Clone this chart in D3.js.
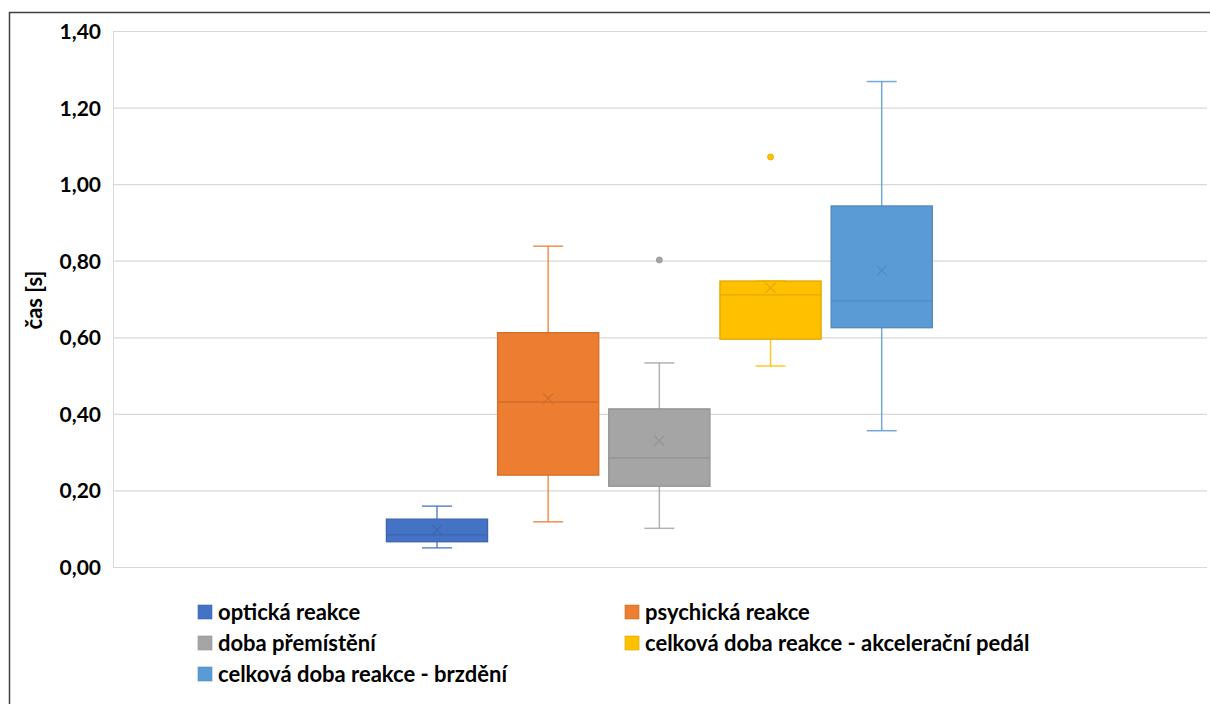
<!DOCTYPE html>
<html>
<head>
<meta charset="utf-8">
<script src="https://cdn.jsdelivr.net/npm/d3@7"></script>
<style>
  html, body { margin: 0; padding: 0; background: #fff; }
  svg { display: block; }
  text { font-family: Lato, "Open Sans", sans-serif; font-weight: 700; fill: #000; }
</style>
</head>
<body>
<svg id="chart" width="1210" height="704"></svg>
<script>
// ---- data ----
const categories = [
  "optická reakce",
  "psychická reakce",
  "doba přemístění",
  "celková doba reakce - akcelerační pedál",
  "celková doba reakce - brzdění"
];
const minValues    = [0.050, 0.118, 0.101, 0.525, 0.356];
const q1Values     = [0.066, 0.240, 0.211, 0.595, 0.625];
const medianValues = [0.084, 0.431, 0.285, 0.711, 0.695];
const q3Values     = [0.125, 0.612, 0.413, 0.747, 0.943];
const maxValues    = [0.159, 0.838, 0.533, 0.747, 1.268];
const meanValues   = [0.097, 0.440, 0.330, 0.729, 0.774];
const outliers     = [[], [], [0.802], [1.071], []];
const colors       = ["#4472C4", "#ED7D31", "#A5A5A5", "#FFC000", "#5B9BD5"];
const yTicks       = [0, 0.2, 0.4, 0.6, 0.8, 1.0, 1.2, 1.4];
const yTitle       = "čas [s]";

// ---- layout ----
const svg = d3.select("#chart");
const plot = { left: 113, right: 1207, top: 31, bottom: 567 };

const y = d3.scaleLinear().domain([0, 1.4]).range([plot.bottom, plot.top]);
const x = d3.scaleBand().domain(categories)
  .range([381.4, 937.3]).paddingInner(0.09).paddingOuter(0.045);

// outer frame
svg.append("rect")
  .attr("x", 9.5).attr("y", 12.5).attr("width", 1300).attr("height", 800)
  .attr("fill", "none").attr("stroke", "#404040").attr("stroke-width", 1.5);

// gridlines
const yAxis = d3.axisLeft(y).tickValues(yTicks)
  .tickSize(-(plot.right - plot.left))
  .tickFormat(d => d3.format(".2f")(d).replace(".", ","));
const gy = svg.append("g").attr("transform", `translate(${plot.left},0)`).call(yAxis);
gy.select(".domain").attr("stroke", "#d9d9d9");
gy.selectAll(".tick line").attr("stroke", "#d9d9d9").attr("stroke-width", 1.2);
gy.selectAll(".tick text")
  .attr("x", -12).attr("dy", "0.36em")
  .style("font-size", "21px").style("font-family", "Lato, sans-serif").style("font-weight", 700)
  .attr("fill", "#000");

// y title
svg.append("text")
  .attr("transform", `translate(42,${(plot.top + plot.bottom) / 2 + 1}) rotate(-90)`)
  .attr("text-anchor", "middle")
  .style("font-size", "22px")
  .text(yTitle);

// ---- boxes ----
const darker = c => d3.color(c).darker(0.35).formatHex();
const capW = 30;
categories.forEach((cat, i) => {
  const g = svg.append("g");
  const x0 = x(cat), bw = x.bandwidth(), cx = x0 + bw / 2;
  const col = colors[i], dk = darker(col);
  // whiskers
  g.append("line").attr("x1", cx).attr("x2", cx)
    .attr("y1", y(q3Values[i])).attr("y2", y(maxValues[i]))
    .attr("stroke", col).attr("stroke-width", 1.5).attr("stroke-opacity", 0.85);
  g.append("line").attr("x1", cx).attr("x2", cx)
    .attr("y1", y(q1Values[i])).attr("y2", y(minValues[i]))
    .attr("stroke", col).attr("stroke-width", 1.5).attr("stroke-opacity", 0.85);
  [maxValues[i], minValues[i]].forEach(v => {
    g.append("line").attr("x1", cx - capW / 2).attr("x2", cx + capW / 2)
      .attr("y1", y(v)).attr("y2", y(v))
      .attr("stroke", col).attr("stroke-width", 1.5).attr("stroke-opacity", 0.85);
  });
  // box
  g.append("rect").attr("x", x0).attr("width", bw)
    .attr("y", y(q3Values[i])).attr("height", y(q1Values[i]) - y(q3Values[i]))
    .attr("fill", col).attr("stroke", dk).attr("stroke-width", 1.3);
  // median
  g.append("line").attr("x1", x0).attr("x2", x0 + bw)
    .attr("y1", y(medianValues[i])).attr("y2", y(medianValues[i]))
    .attr("stroke", dk).attr("stroke-width", 1.3);
  // mean marker
  const my = y(meanValues[i]), s = 5;
  g.append("path")
    .attr("d", `M${cx - s},${my - s}L${cx + s},${my + s}M${cx - s},${my + s}L${cx + s},${my - s}`)
    .attr("stroke", dk).attr("stroke-width", 1.2).attr("fill", "none");
  // outliers
  outliers[i].forEach(v => {
    g.append("circle").attr("cx", cx).attr("cy", y(v)).attr("r", 3)
      .attr("fill", col).attr("stroke", dk).attr("stroke-width", 0.8);
  });
});

// ---- legend ----
const legendPos = [
  [198, 612], [625, 612],
  [198, 643], [625, 643],
  [198, 674]
];
categories.forEach((cat, i) => {
  const [lx, ly] = legendPos[i];
  svg.append("rect").attr("x", lx).attr("y", ly - 7).attr("width", 14).attr("height", 14)
    .attr("fill", colors[i]).attr("stroke", darker(colors[i])).attr("stroke-width", 0.6);
  svg.append("text").attr("x", lx + 20).attr("y", ly).attr("dy", "0.35em")
    .style("font-size", "22px").text(cat);
});
</script>
</body>
</html>
